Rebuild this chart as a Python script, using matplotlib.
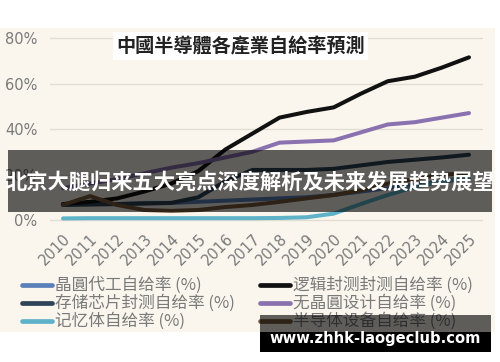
import matplotlib
matplotlib.use("Agg")
import matplotlib.pyplot as plt
from matplotlib.patches import Rectangle
from matplotlib.lines import Line2D

plt.rcParams['font.family'] = ['Noto Sans CJK SC', 'DejaVu Sans']

years = list(range(2010, 2026))
year_labels = [str(y) for y in years]

foundry = [7, 7, 7, 7.5, 7.5, 8, 8.5, 9, 9.5, 10, 11, 12.5, 14, 15.5, 17, 18]
memory_pkg = [6.6, 6.8, 7, 7.2, 7.5, 10, 17, 22, 22, 22, 22.5, 24, 25.5, 26.5, 27.5, 28.7]
memory = [0.7, 0.8, 0.8, 0.8, 0.8, 0.8, 0.8, 0.8, 0.9, 1.2, 2.8, 7, 11, 14.5, 17, 19]
logic_pkg = [7, 8, 9.5, 12.5, 16, 21.5, 31, 38, 45, 47.5, 49.5, 55.5, 61, 63, 67, 71.5]
fabless = [14, 16, 18, 20.5, 23, 25, 27.5, 30, 34, 34.5, 35, 38.5, 42, 43, 45, 47]
equipment = [6.6, 10.5, 6.6, 4.4, 4, 4.4, 5.7, 6.6, 8, 9.5, 11, 13, 16, 18, 20, 20.5]

series = [
    ("晶圓代工自给率 (%)", foundry, "#5b7fb8"),
    ("存储芯片封测自给率 (%)", memory_pkg, "#2d4356"),
    ("记忆体自给率 (%)", memory, "#5fb3c9"),
    ("逻辑封测封测自给率 (%)", logic_pkg, "#111111"),
    ("无晶圓设计自给率 (%)", fabless, "#8a72b0"),
    ("半导体设备自给率 (%)", equipment, "#7a5a3a"),
]
yticks = [0, 20, 40, 60, 80]
ytick_labels = ["0%", "20%", "40%", "60%", "80%"]

W, H = 500, 362
fig = plt.figure(figsize=(5, 3.62), dpi=100, facecolor="white")

def fx(x):
    return x / W

def fy(y):
    return 1 - y / H

# cream background
fig.patches.append(Rectangle((0, fy(332)), fx(495), fy(28) - fy(332),
                             transform=fig.transFigure, facecolor="#faf6ee",
                             edgecolor="none", zorder=-10))

ax = fig.add_axes([fx(50), fy(224.55), fx(483) - fx(50), fy(33.45) - fy(224.55)])
ax.set_facecolor("none")
ax.set_xlim(2010 - 13 / 27.07, 2025 + 14 / 27.07)
ax.set_ylim(-2, 82)
for s in ax.spines.values():
    s.set_visible(False)
ax.set_yticks(yticks)
ax.set_yticklabels(ytick_labels)
ax.set_xticks(years)
ax.set_xticklabels(year_labels, rotation=45, ha="right", va="top", rotation_mode="anchor")
ax.tick_params(axis="both", length=0, labelcolor="#7a7a7a", labelsize=10.5)
ax.tick_params(axis="y", pad=9)
ax.tick_params(axis="x", pad=5)
for lab in ax.get_xticklabels() + ax.get_yticklabels():
    lab.set_family(["DejaVu Sans"])
ax.grid(axis="y", color="#e2ddd3", linewidth=1)
ax.set_axisbelow(True)

order = [2, 0, 5, 1, 4, 3]
for i in order:
    name, vals, col = series[i]
    ax.plot(years, vals, color=col, linewidth=2.9, solid_capstyle="round", zorder=3 + i)

# title
fig.patches.append(Rectangle((fx(113), fy(60)), fx(368) - fx(113), fy(32) - fy(60),
                             transform=fig.transFigure, facecolor="white",
                             edgecolor="none", zorder=5))
fig.text(fx(241), fy(46.5), "中國半導體各產業自給率預測", ha="center", va="center",
         fontsize=13.8, color="#222222", fontweight="bold", zorder=6,
         family=["Noto Sans CJK TC", "DejaVu Sans"])

# legend (manual)
rows = [285, 303, 321]
for k, (name, vals, col) in enumerate(series):
    colx = 0 if k < 3 else 1
    y = rows[k % 3]
    x0, x1, tx = (22, 52, 55) if colx == 0 else (260, 290, 293)
    fig.add_artist(Line2D([fx(x0), fx(x1)], [fy(y), fy(y)], transform=fig.transFigure,
                          color=col, linewidth=3.4, solid_capstyle="round"))
    fig.text(fx(tx), fy(y), name, ha="left", va="center", fontsize=12, color="#7a7a7a")

# overlay banner
fig.patches.append(Rectangle((fx(8), fy(212)), fx(492) - fx(8), fy(150) - fy(212),
                             transform=fig.transFigure, facecolor="black", alpha=0.62,
                             edgecolor="none", zorder=20))
fig.text(fx(250), fy(183), "北京大腿归来五大亮点深度解析及未来发展趋势展望", ha="center",
         va="center", fontsize=15.3, color="white", fontweight="bold", zorder=21)

# bottom watermark box
fig.patches.append(Rectangle((fx(260), fy(352)), fx(491) - fx(260), fy(315) - fy(352),
                             transform=fig.transFigure, facecolor="black", alpha=0.62,
                             edgecolor="none", zorder=20))
fig.patches.append(Rectangle((fx(260), fy(352)), fx(491) - fx(260), fy(332) - fy(352),
                             transform=fig.transFigure, facecolor="black",
                             edgecolor="none", zorder=21))
fig.text(fx(375), fy(338), "www.zhhk-laogeclub.com", ha="center", va="center",
         fontsize=10.6, color="white", fontweight="bold", zorder=22,
         family=["DejaVu Sans"])

fig.savefig("out.png", dpi=100, facecolor="white")
